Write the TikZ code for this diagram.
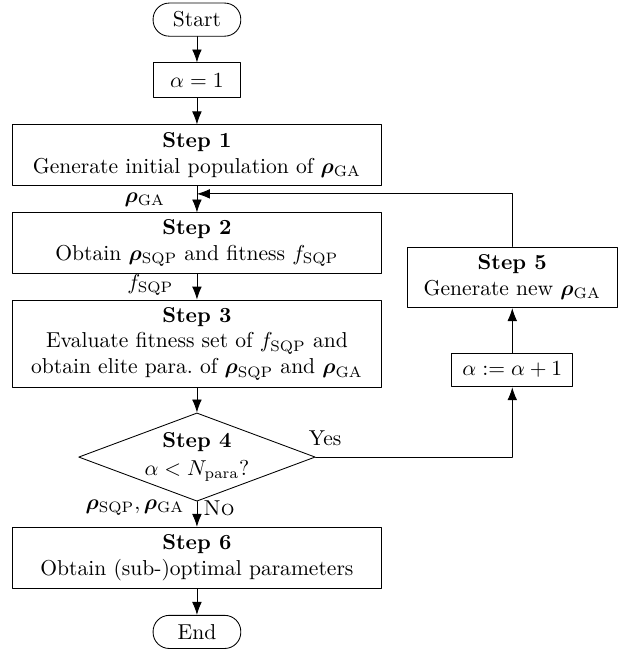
\documentclass[tikz,border=0pt]{standalone}
\usepackage{amsmath}
\usepackage{bm}
\usetikzlibrary{shapes.geometric,arrows.meta}

\tikzset{
  stepbox/.style={draw,rectangle,align=center,inner sep=1pt,minimum width=6.00cm,minimum height=0.99cm},
  smallbox/.style={draw,rectangle,inner sep=2pt,minimum height=0.57cm},
  termbox/.style={draw,rectangle,rounded corners=7.5pt,minimum width=1.43cm,minimum height=0.54cm},
  testbox/.style={draw,diamond,aspect=2.68,align=center,inner sep=0pt,minimum width=3.72cm,minimum height=1.39cm},
  flow/.style={-{Latex[length=6pt,width=4.5pt]}},
}

\begin{document}
\begin{tikzpicture}[line cap=round,line join=round]
  \useasboundingbox (0,0) rectangle (10.24,-10.66);
  \def\mx{3.21}
  \def\rx{8.35}
  % main column
  \node[termbox] (start) at (\mx,-0.32) {Start};
  \node[smallbox,minimum width=1.43cm] (init) at (\mx,-1.31) {$\alpha = 1$};
  \node[stepbox] (step1) at (\mx,-2.53) {\textbf{Step 1}\\ Generate initial population of $\bm{\rho}_{\mathrm{GA}}$};
  \node[stepbox,minimum height=0.98cm] (step2) at (\mx,-3.96) {\textbf{Step 2}\\ Obtain $\bm{\rho}_{\mathrm{SQP}}$ and fitness $f_{\mathrm{SQP}}$};
  \node[stepbox,minimum height=1.42cm] (step3) at (\mx,-5.60) {\textbf{Step 3}\\ Evaluate fitness set of $f_{\mathrm{SQP}}$ and\\ obtain elite para.\ of $\bm{\rho}_{\mathrm{SQP}}$ and $\bm{\rho}_{\mathrm{GA}}$};
  \node[testbox] (step4) at (\mx,-7.45) {\textbf{Step 4}\\[1pt] $\alpha < N_{\mathrm{para}}$?};
  \node[stepbox] (step6) at (\mx,-9.09) {\textbf{Step 6}\\ Obtain (sub-)optimal parameters};
  \node[termbox] (end) at (\mx,-10.30) {End};
  % right column
  \node[stepbox,minimum width=3.42cm] (step5) at (\rx,-4.52) {\textbf{Step 5}\\ Generate new $\bm{\rho}_{\mathrm{GA}}$};
  \node[smallbox,minimum width=1.97cm,minimum height=0.55cm] (incr) at (\rx,-6.03) {$\alpha := \alpha + 1$};
  \coordinate (join) at (\mx,-3.16);
  \coordinate (turn) at (\rx,-7.45);

  \draw[flow] (start) -- (init);
  \draw[flow] (init) -- (step1);
  \draw[flow] (step1) -- (step2);
  \draw[flow] (step2) -- (step3);
  \draw[flow] (step3) -- (step4);
  \draw[flow] (step4) -- (step6);
  \draw[flow] (step6) -- (end);
  \draw (step4.east) -- (turn);
  \draw[flow] (turn) -- (incr);
  \draw[flow] (incr) -- (step5);
  \draw[flow] (step5.north) |- (join);

  \node (lga) at (2.36,-3.26) {$\bm{\rho}_{\mathrm{GA}}$};
  \node (lsqp) at (2.45,-4.65) {$f_{\mathrm{SQP}}$};
  \node (lboth) at (2.20,-8.28) {$\bm{\rho}_{\mathrm{SQP}}, \bm{\rho}_{\mathrm{GA}}$};
  \node (lno) at (3.57,-8.28) {\textsc{No}};
  \node (lyes) at (5.30,-7.14) {Yes};
\end{tikzpicture}
\end{document}
